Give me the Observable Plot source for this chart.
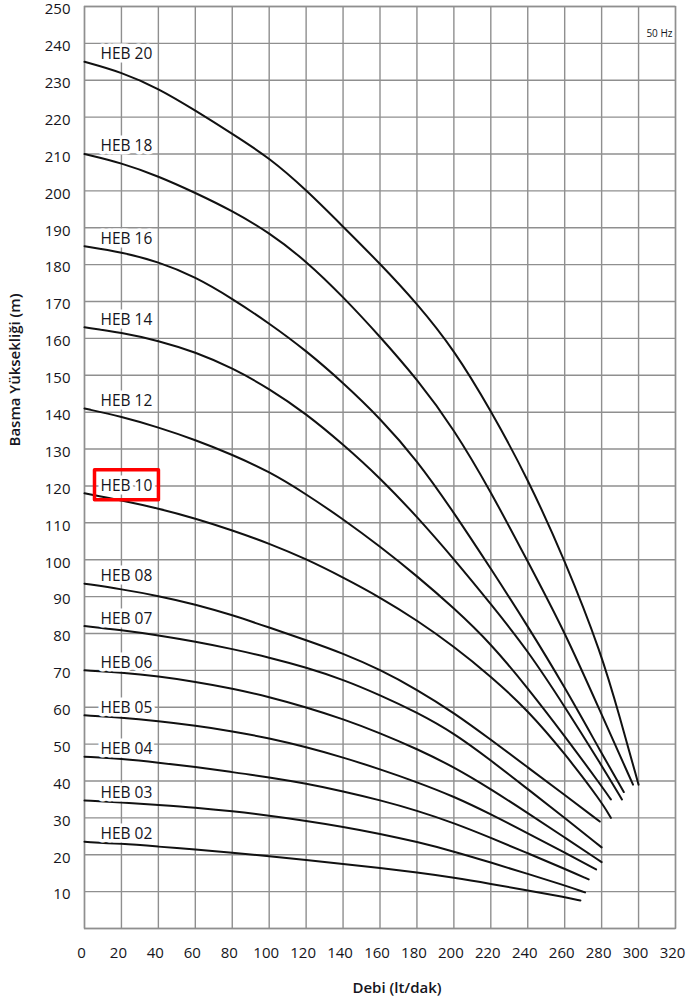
<!DOCTYPE html>
<html><head><meta charset="utf-8">
<script src="https://cdn.jsdelivr.net/npm/d3@7"></script>
<script src="https://cdn.jsdelivr.net/npm/@observablehq/plot@0.6"></script>
<style>
body{margin:0;background:#fff;}
#chart{width:691px;height:999px;}
</style></head><body><div id="chart"></div>
<script>
// Pump curves: [flow (lt/dak), head (m)]
const HEB02 = [[0,23.5],[20,23],[40,22.2],[60,21.4],[80,20.6],[100,19.6],[120,18.6],[140,17.5],[160,16.4],[180,15.2],[200,13.8],[220,12.1],[240,10.3],[260,8.5],[268.5,7.6]];
const HEB03 = [[0,34.7],[20,34.2],[40,33.5],[60,32.8],[80,31.8],[100,30.6],[120,29.2],[140,27.6],[160,25.7],[180,23.5],[200,20.9],[220,17.9],[240,14.8],[260,11.7],[271,9.8]];
const HEB04 = [[0,46.6],[20,46],[40,45],[60,43.8],[80,42.4],[100,41],[120,39.3],[140,37.2],[160,34.8],[180,32],[200,28.6],[220,24.6],[240,20.4],[260,16.2],[273,13.3]];
const HEB05 = [[0,57.8],[20,57.2],[40,56.2],[60,55],[80,53.5],[100,51.6],[120,49.2],[140,46.4],[160,43.2],[180,39.7],[200,35.8],[220,31],[240,25.8],[260,20.6],[277,16]];
const HEB06 = [[0,70],[20,69.4],[40,68.4],[60,66.9],[80,65.1],[100,62.8],[120,60],[140,56.8],[160,53],[180,48.7],[200,43.8],[220,37.8],[240,31.3],[260,24.7],[280,18]];
const HEB07 = [[0,82],[20,80.9],[40,79.5],[60,77.8],[80,75.8],[100,73.5],[120,70.8],[140,67.5],[160,63.3],[180,58.6],[200,53],[220,45.6],[240,37.8],[260,30],[280,22]];
const HEB08 = [[0,93.5],[20,92],[40,90.2],[60,87.9],[80,85],[100,81.6],[120,78.2],[140,74.6],[160,70.2],[180,64.8],[200,58.5],[220,51.2],[240,43.7],[260,36.2],[279,29]];
const HEB10 = [[0,118],[20,116.1],[40,113.9],[60,111.2],[80,108],[100,104.4],[120,100.2],[140,95.2],[160,89.8],[180,83.6],[200,76.5],[220,68.4],[240,59.2],[260,47.5],[280,34.3],[285,30]];
const HEB12 = [[0,141],[20,138.8],[40,135.9],[60,132.5],[80,128.5],[100,123.9],[120,117.8],[140,111],[160,103.6],[180,95.6],[200,86.9],[220,77.3],[240,65.2],[260,52.2],[280,38.6],[285,35]];
const HEB14 = [[0,163],[20,161.6],[40,159.4],[60,156.3],[80,152],[100,146.4],[120,139.6],[140,131.3],[160,122.2],[180,111.7],[200,100.2],[220,88],[240,75.4],[260,60.2],[280,44.2],[291,35]];
const HEB16 = [[0,185],[20,183.4],[40,180.8],[60,176.7],[80,170.8],[100,164.1],[120,156.7],[140,148],[160,138.4],[180,127],[200,112.8],[220,97.6],[240,82],[260,65.5],[280,47.5],[292,37]];
const HEB18 = [[0,210],[20,207.6],[40,204],[60,199.5],[80,194.6],[100,188.7],[120,181],[140,171.3],[160,160.5],[180,149],[200,135.5],[220,118.5],[240,99.5],[260,80.5],[280,58],[297,39]];
const HEB20 = [[0,235],[20,232.2],[40,227.8],[60,221.8],[80,215.5],[100,209],[120,200.3],[140,190.3],[160,180.3],[180,169.5],[200,157],[220,140.5],[240,122],[260,100],[280,74.5],[290,57],[300,39]];

const models = ["HEB 02","HEB 03","HEB 04","HEB 05","HEB 06","HEB 07","HEB 08","HEB 10","HEB 12","HEB 14","HEB 16","HEB 18","HEB 20"];
const curves = [HEB02,HEB03,HEB04,HEB05,HEB06,HEB07,HEB08,HEB10,HEB12,HEB14,HEB16,HEB18,HEB20];
const xTicks = [0,20,40,60,80,100,120,140,160,180,200,220,240,260,280,300,320];
const yTicks = [10,20,30,40,50,60,70,80,90,100,110,120,130,140,150,160,170,180,190,200,210,220,230,240,250];
const yGrid = [0,...yTicks];
const freqLabel = "50 Hz";
const xTitle = "Debi (lt/dak)";
const yTitle = "Basma Yüksekliği (m)";
const highlighted = "HEB 10";

const rows = models.flatMap((m, i) => curves[i].map(([q, h]) => ({model: m, q, h})));
const labels = models.map((m, i) => ({model: m, h: curves[i][0][1]}));

const font = "'Open Sans', sans-serif";
const ink = "#151520";
const gridColor = "#8f8f8f";

const plot = Plot.plot({
  width: 691, height: 999,
  marginLeft: 84, marginRight: 16, marginTop: 6, marginBottom: 71,
  style: {fontFamily: font, fontSize: "15px", color: ink, background: "#fff"},
  x: {domain: [0, 320]},
  y: {domain: [0, 250]},
  marks: [
    Plot.gridX(xTicks, {stroke: gridColor, strokeOpacity: 1, strokeWidth: 1.4}),
    Plot.gridY(yGrid, {stroke: gridColor, strokeOpacity: 1, strokeWidth: 1.4}),
    Plot.frame({stroke: gridColor, strokeWidth: 1.4}),
    Plot.axisX(xTicks, {tickSize: 0, tickPadding: 19, dx: -3, label: null, fontSize: 15}),
    Plot.axisY(yTicks, {tickSize: 0, tickPadding: 14, dy: 3, label: null, fontSize: 15}),
    Plot.line(rows, {x: "q", y: "h", z: "model", stroke: "#111", strokeWidth: 2, curve: "basis"}),
    Plot.text(labels, {y: "h", text: "model", frameAnchor: "left", dx: 16, dy: -7.5, textAnchor: "start", lineAnchor: "middle", fontSize: 15.5, fill: ink, stroke: "white", strokeWidth: 7}),
    Plot.text([freqLabel], {frameAnchor: "top-right", dx: -3, dy: 27, lineAnchor: "middle", fontSize: 10, fill: ink, stroke: "white", strokeWidth: 4}),
    Plot.text([xTitle], {frameAnchor: "bottom", dx: 17, dy: 60, lineAnchor: "middle", fontSize: 15, fontWeight: 600, fill: ink}),
    Plot.text([yTitle], {frameAnchor: "left", rotate: -90, dx: -69, dy: -21, lineAnchor: "middle", fontSize: 15, fontWeight: 600, fill: ink})
  ]
});
document.getElementById("chart").appendChild(plot);

// red highlight box around the highlighted model label
for (const t of plot.querySelectorAll("text")) {
  if (t.textContent === highlighted) {
    const bb = t.getBBox();
    const r = document.createElementNS("http://www.w3.org/2000/svg", "rect");
    const tr = t.getAttribute("transform");
    if (tr) r.setAttribute("transform", tr);
    r.setAttribute("x", bb.x - 6);
    r.setAttribute("y", bb.y - 4);
    r.setAttribute("width", bb.width + 12);
    r.setAttribute("height", bb.height + 8);
    r.setAttribute("fill", "none");
    r.setAttribute("stroke", "#ff0000");
    r.setAttribute("stroke-width", 3.5);
    t.parentNode.insertBefore(r, t.nextSibling);
  }
}
</script>
</body></html>
